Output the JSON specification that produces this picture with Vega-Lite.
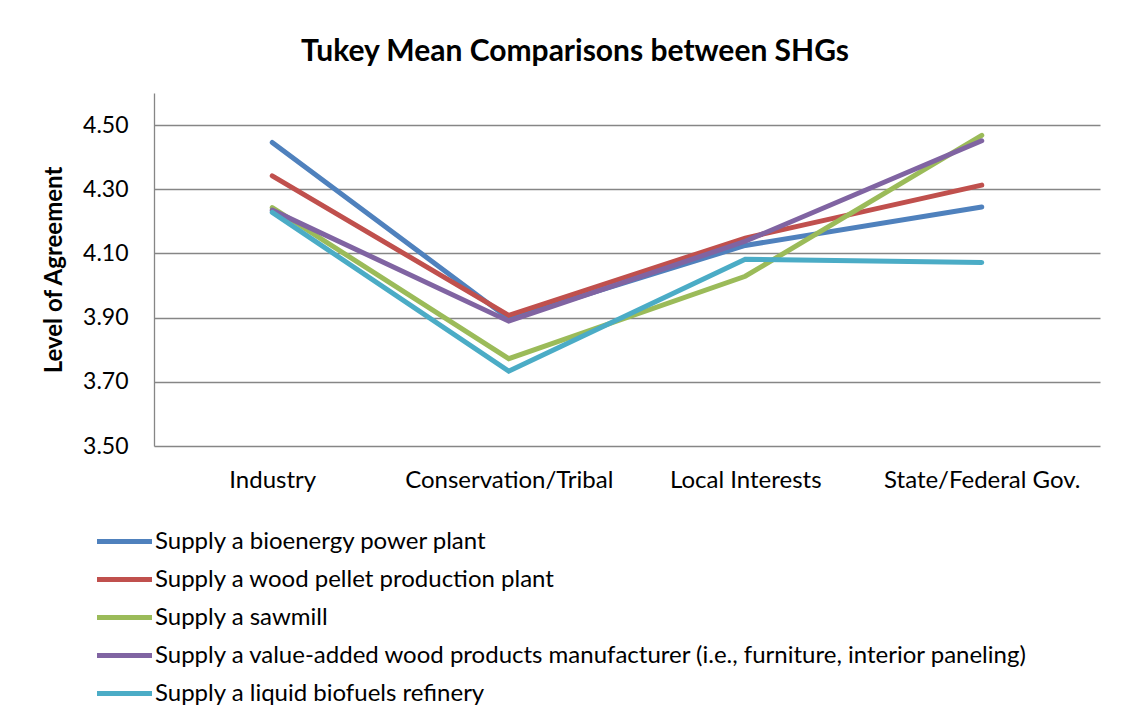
{
  "$schema": "https://vega.github.io/schema/vega-lite/v6.json",
  "autosize": {"type": "none"},
  "padding": {"left": 154, "top": 93, "right": 27, "bottom": 261},
  "width": 946,
  "height": 353,
  "background": "white",
  "title": {
    "text": "Tukey Mean Comparisons between SHGs",
    "font": "Lato",
    "fontSize": 30,
    "fontWeight": "bold",
    "color": "black",
    "anchor": "middle",
    "baseline": "alphabetic",
    "offset": 2,
    "dx": -52
  },
  "data": {
    "values": [
      {"group": "Industry", "series": "Supply a bioenergy power plant", "value": 4.446},
      {"group": "Conservation/Tribal", "series": "Supply a bioenergy power plant", "value": 3.897},
      {"group": "Local Interests", "series": "Supply a bioenergy power plant", "value": 4.125},
      {"group": "State/Federal Gov.", "series": "Supply a bioenergy power plant", "value": 4.245},
      {"group": "Industry", "series": "Supply a wood pellet production plant", "value": 4.342},
      {"group": "Conservation/Tribal", "series": "Supply a wood pellet production plant", "value": 3.907},
      {"group": "Local Interests", "series": "Supply a wood pellet production plant", "value": 4.148},
      {"group": "State/Federal Gov.", "series": "Supply a wood pellet production plant", "value": 4.313},
      {"group": "Industry", "series": "Supply a sawmill", "value": 4.243},
      {"group": "Conservation/Tribal", "series": "Supply a sawmill", "value": 3.772},
      {"group": "Local Interests", "series": "Supply a sawmill", "value": 4.029},
      {"group": "State/Federal Gov.", "series": "Supply a sawmill", "value": 4.468},
      {"group": "Industry", "series": "Supply a value-added wood products manufacturer (i.e., furniture, interior paneling)", "value": 4.235},
      {"group": "Conservation/Tribal", "series": "Supply a value-added wood products manufacturer (i.e., furniture, interior paneling)", "value": 3.889},
      {"group": "Local Interests", "series": "Supply a value-added wood products manufacturer (i.e., furniture, interior paneling)", "value": 4.138},
      {"group": "State/Federal Gov.", "series": "Supply a value-added wood products manufacturer (i.e., furniture, interior paneling)", "value": 4.451},
      {"group": "Industry", "series": "Supply a liquid biofuels refinery", "value": 4.228},
      {"group": "Conservation/Tribal", "series": "Supply a liquid biofuels refinery", "value": 3.733},
      {"group": "Local Interests", "series": "Supply a liquid biofuels refinery", "value": 4.082},
      {"group": "State/Federal Gov.", "series": "Supply a liquid biofuels refinery", "value": 4.072}
    ]
  },
  "mark": {"type": "line", "strokeWidth": 5, "strokeCap": "round", "strokeJoin": "miter"},
  "encoding": {
    "x": {
      "field": "group",
      "type": "nominal",
      "sort": ["Industry", "Conservation/Tribal", "Local Interests", "State/Federal Gov."],
      "scale": {"type": "point", "padding": 0.5},
      "axis": {
        "title": null,
        "labelAngle": 0,
        "labelFont": "Lato",
        "labelFontSize": 24,
        "labelColor": "black",
        "labelPadding": 22,
        "labelLimit": 400,
        "ticks": false,
        "domain": false,
        "grid": false
      }
    },
    "y": {
      "field": "value",
      "type": "quantitative",
      "scale": {"domain": [3.5, 4.6], "nice": false, "zero": false},
      "axis": {
        "title": "Level of Agreement",
        "titleFont": "Lato",
        "titleFontSize": 24,
        "titleFontWeight": "bold",
        "titleColor": "black",
        "titlePadding": 16,
        "values": [3.5, 3.7, 3.9, 4.1, 4.3, 4.5],
        "format": ".2f",
        "labelFont": "Lato",
        "labelFontSize": 23,
        "labelColor": "black",
        "labelPadding": 26,
        "ticks": false,
        "domainColor": "#868686",
        "domainWidth": 1.3,
        "grid": true,
        "gridColor": "#868686",
        "gridWidth": 1.3
      }
    },
    "color": {
      "field": "series",
      "type": "nominal",
      "scale": {
        "domain": [
          "Supply a bioenergy power plant",
          "Supply a wood pellet production plant",
          "Supply a sawmill",
          "Supply a value-added wood products manufacturer (i.e., furniture, interior paneling)",
          "Supply a liquid biofuels refinery"
        ],
        "range": ["#4F81BD", "#C0504D", "#9BBB59", "#8064A2", "#4BACC6"]
      },
      "legend": {
        "title": null,
        "orient": "none",
        "legendX": -46,
        "legendY": 432,
        "padding": 0,
        "direction": "vertical",
        "symbolType": "M-2,0H2",
        "symbolSize": 756,
        "symbolStrokeWidth": 5,
        "rowPadding": 9,
        "labelOffset": 14,
        "labelFont": "Lato",
        "labelFontSize": 24,
        "labelColor": "black",
        "labelLimit": 1000
      }
    }
  },
  "config": {
    "view": {"stroke": null}
  }
}
